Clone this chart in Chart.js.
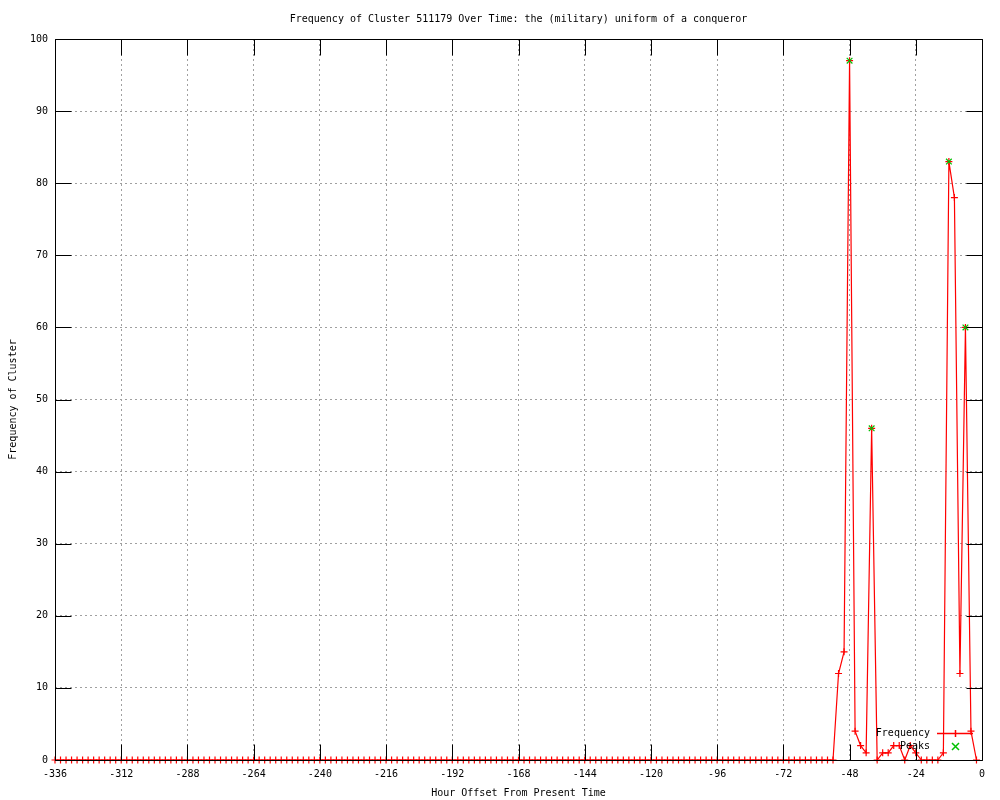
<!DOCTYPE html>
<html><head><meta charset="utf-8">
<script src="https://cdn.jsdelivr.net/npm/chart.js@4.4.0/dist/chart.umd.min.js"></script>
<style>html,body{margin:0;padding:0;background:#fff;}canvas{display:block;}</style>
</head><body>
<canvas id="c" width="1000" height="800"></canvas>
<script>
const titleText = "Frequency of Cluster 511179 Over Time: the (military) uniform of a conqueror";
const xLabel = "Hour Offset From Present Time";
const yLabel = "Frequency of Cluster";

const hours = [
  -336,-334,-332,-330,-328,-326,-324,-322,-320,-318,-316,-314,
  -312,-310,-308,-306,-304,-302,-300,-298,-296,-294,-292,-290,
  -288,-286,-284,-282,-280,-278,-276,-274,-272,-270,-268,-266,
  -264,-262,-260,-258,-256,-254,-252,-250,-248,-246,-244,-242,
  -240,-238,-236,-234,-232,-230,-228,-226,-224,-222,-220,-218,
  -216,-214,-212,-210,-208,-206,-204,-202,-200,-198,-196,-194,
  -192,-190,-188,-186,-184,-182,-180,-178,-176,-174,-172,-170,
  -168,-166,-164,-162,-160,-158,-156,-154,-152,-150,-148,-146,
  -144,-142,-140,-138,-136,-134,-132,-130,-128,-126,-124,-122,
  -120,-118,-116,-114,-112,-110,-108,-106,-104,-102,-100,-98,
  -96,-94,-92,-90,-88,-86,-84,-82,-80,-78,-76,-74,
  -72,-70,-68,-66,-64,-62,-60,-58,-56,-54,-52,-50,
  -48,-46,-44,-42,-40,-38,-36,-34,-32,-30,-28,-26,
  -24,-22,-20,-18,-16,-14,-12,-10,-8,-6,-4,-2
];
const frequency = [
  0,0,0,0,0,0,0,0,0,0,0,0,
  0,0,0,0,0,0,0,0,0,0,0,0,
  0,0,0,0,0,0,0,0,0,0,0,0,
  0,0,0,0,0,0,0,0,0,0,0,0,
  0,0,0,0,0,0,0,0,0,0,0,0,
  0,0,0,0,0,0,0,0,0,0,0,0,
  0,0,0,0,0,0,0,0,0,0,0,0,
  0,0,0,0,0,0,0,0,0,0,0,0,
  0,0,0,0,0,0,0,0,0,0,0,0,
  0,0,0,0,0,0,0,0,0,0,0,0,
  0,0,0,0,0,0,0,0,0,0,0,0,
  0,0,0,0,0,0,0,0,0,0,12,15,
  97,4,2,1,46,0,1,1,2,2,0,2,
  1,0,0,0,0,1,83,78,12,60,4,0
];
const peakHours = [-48,-40,-12,-6];
const peakValues = [97,46,83,60];
const xTickValues = [-336,-312,-288,-264,-240,-216,-192,-168,-144,-120,-96,-72,-48,-24,0];
const yTickValues = [0,10,20,30,40,50,60,70,80,90,100];
const legendNames = ["Frequency","Peaks"];

const FONT = '"DejaVu Sans Mono", monospace';
const RED = '#ff0000', GREEN = '#00c000';

const framePlugin = {
  id: 'frame',
  afterDatasetsDraw(chart) {
    const {ctx, chartArea: a, scales: {x, y}} = chart;
    ctx.save();
    ctx.setLineDash([]);
    ctx.strokeStyle = '#000';
    ctx.lineWidth = 1;
    const L = Math.round(a.left) + 0.5, R = Math.round(a.right) + 0.5;
    const T = Math.round(a.top) + 0.5, B = Math.round(a.bottom) + 0.5;
    const tl = 16;
    ctx.beginPath();
    ctx.rect(L, T, R - L, B - T);
    xTickValues.forEach(v => {
      const px = Math.round(x.getPixelForValue(v)) + 0.5;
      ctx.moveTo(px, B); ctx.lineTo(px, B - tl);
      ctx.moveTo(px, T); ctx.lineTo(px, T + tl);
    });
    yTickValues.forEach(v => {
      const py = Math.round(y.getPixelForValue(v)) + 0.5;
      ctx.moveTo(L, py); ctx.lineTo(L + tl, py);
      ctx.moveTo(R, py); ctx.lineTo(R - tl, py);
    });
    ctx.stroke();
    ctx.restore();
  },
  afterDraw(chart) {
    const {ctx, chartArea: a} = chart;
    ctx.save();
    ctx.font = '10px ' + FONT;
    ctx.fillStyle = '#000';
    ctx.textAlign = 'center';
    ctx.textBaseline = 'middle';
    ctx.fillText(titleText, (a.left + a.right) / 2, 19);
    ctx.fillText(xLabel, (a.left + a.right) / 2, 793);
    ctx.save();
    ctx.translate(13, (a.top + a.bottom) / 2);
    ctx.rotate(-Math.PI / 2);
    ctx.fillText(yLabel, 0, 0);
    ctx.restore();

    // key (legend) inside plot, bottom right
    const tx = 930, sx1 = 937, sx2 = 973, mx = 955;
    const y1 = 733, y2 = 746;
    ctx.textAlign = 'right';
    ctx.fillText(legendNames[0], tx, y1);
    ctx.fillText(legendNames[1], tx, y2);
    ctx.setLineDash([]);
    ctx.lineWidth = 1.5;
    ctx.strokeStyle = RED;
    ctx.beginPath();
    ctx.moveTo(sx1, y1 + 0.5); ctx.lineTo(sx2, y1 + 0.5);
    ctx.moveTo(mx + 0.5, y1 - 3); ctx.lineTo(mx + 0.5, y1 + 4);
    ctx.stroke();
    ctx.strokeStyle = GREEN;
    ctx.beginPath();
    ctx.moveTo(mx - 3, y2 - 3); ctx.lineTo(mx + 4, y2 + 4);
    ctx.moveTo(mx + 4, y2 - 3); ctx.lineTo(mx - 3, y2 + 4);
    ctx.stroke();
    ctx.restore();
  }
};

const freqPoints = hours.map((h, i) => ({x: h, y: frequency[i]}));
const peakPoints = peakHours.map((h, i) => ({x: h, y: peakValues[i]}));

new Chart(document.getElementById('c'), {
  type: 'scatter',
  data: {
    datasets: [
      {
        label: legendNames[1],
        data: peakPoints,
        showLine: false,
        pointStyle: 'crossRot',
        pointRadius: 4,
        pointBorderWidth: 1.2,
        borderColor: GREEN,
        backgroundColor: GREEN,
        clip: false,
        order: 0
      },
      {
        label: legendNames[0],
        data: freqPoints,
        showLine: true,
        borderColor: RED,
        backgroundColor: RED,
        borderWidth: 1.2,
        tension: 0,
        fill: false,
        pointStyle: 'cross',
        pointRadius: 3.5,
        pointBorderWidth: 1.2,
        pointBorderColor: RED,
        clip: false,
        order: 1
      }
    ]
  },
  options: {
    responsive: false,
    animation: false,
    events: [],
    layout: {padding: {top: 39, right: 18, left: 0, bottom: 0}},
    plugins: {legend: {display: false}, title: {display: false}, tooltip: {enabled: false}},
    scales: {
      x: {
        type: 'linear', min: -336, max: 0,
        afterBuildTicks: s => { s.ticks = xTickValues.map(v => ({value: v})); },
        afterFit: s => { s.height = 40; },
        grid: {color: '#a0a0a0', lineWidth: 1, drawTicks: false},
        border: {display: false, dash: [2, 3]},
        ticks: {font: {family: FONT, size: 10}, color: '#000', padding: 8, maxRotation: 0, autoSkip: false,
                callback: v => String(v)}
      },
      y: {
        type: 'linear', min: 0, max: 100,
        afterBuildTicks: s => { s.ticks = yTickValues.map(v => ({value: v})); },
        afterFit: s => { s.width = 55; },
        grid: {color: '#a0a0a0', lineWidth: 1, drawTicks: false},
        border: {display: false, dash: [2, 3]},
        ticks: {font: {family: FONT, size: 10}, color: '#000', padding: 7, autoSkip: false,
                callback: v => String(v)}
      }
    }
  },
  plugins: [framePlugin]
});
</script>
</body></html>
